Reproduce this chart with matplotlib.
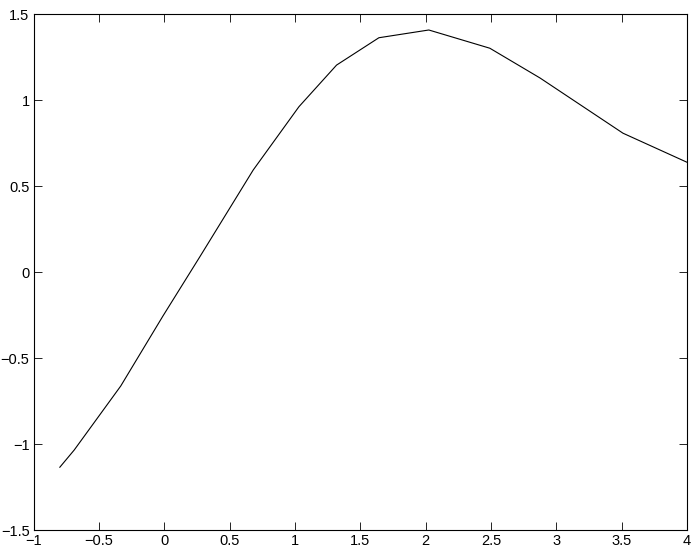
import matplotlib
matplotlib.use("Agg")
import matplotlib.pyplot as plt

x_vals = [-0.80, -0.69, -0.334, -0.011, 0.272, 0.68, 1.03, 1.318, 1.642, 2.024,
          2.491, 2.875, 3.51, 4.0]
y_vals = [-1.135, -1.035, -0.663, -0.256, 0.089, 0.593, 0.961, 1.203, 1.362, 1.407,
          1.301, 1.128, 0.807, 0.638]

x_ticks = [-1, -0.5, 0, 0.5, 1, 1.5, 2, 2.5, 3, 3.5, 4]
x_tick_labels = ["\u22121", "\u22120.5", "0", "0.5", "1", "1.5", "2", "2.5", "3", "3.5", "4"]
y_ticks = [-1.5, -1, -0.5, 0, 0.5, 1, 1.5]
y_tick_labels = ["\u22121.5", "\u22121", "\u22120.5", "0", "0.5", "1", "1.5"]

plt.rcParams['font.family'] = ['Liberation Sans', 'DejaVu Sans']
fig = plt.figure(figsize=(6.98, 5.51), dpi=100)
ax = fig.add_axes([33.7 / 698, 21 / 551, (687 - 33.7) / 698, (530 - 14) / 551])
ax.plot(x_vals, y_vals, color="black", linewidth=0.8)
ax.set_xlim(-1, 4)
ax.set_ylim(-1.5, 1.5)
ax.set_xticks(x_ticks)
ax.set_xticklabels(x_tick_labels)
ax.set_yticks(y_ticks)
ax.set_yticklabels(y_tick_labels)
ax.tick_params(direction="in", length=6, width=0.6, top=True, right=True,
               labelsize=10.5, pad=3)
for s in ax.spines.values():
    s.set_linewidth(0.8)
fig.savefig("out.png", dpi=100)
